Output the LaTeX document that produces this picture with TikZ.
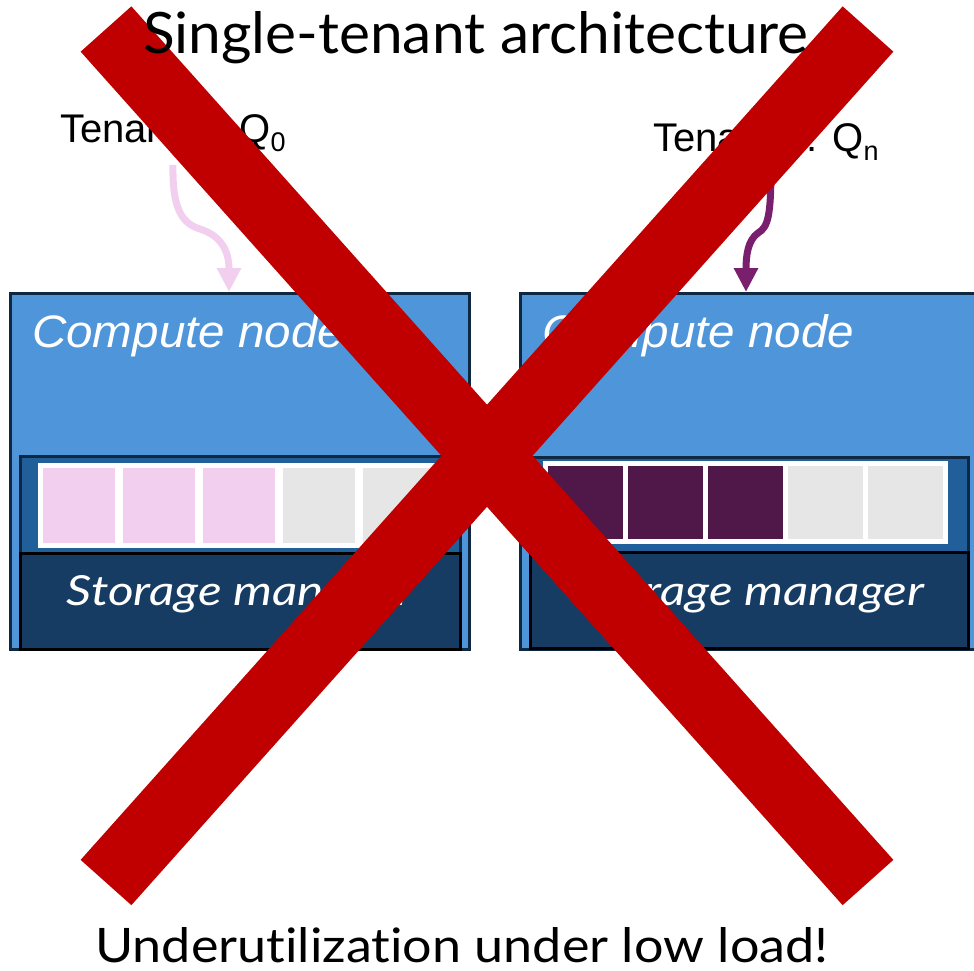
\documentclass[tikz,border=0pt]{standalone}
\usepackage{fontspec}
\setmainfont{Liberation Sans}
\newfontfamily\headfont[Ligatures=NoCommon]{Lato}
\usetikzlibrary{arrows.meta}

\definecolor{computefill}{HTML}{4E95D9}
\definecolor{boxline}{HTML}{0E2841}
\definecolor{poolfill}{HTML}{215F9A}
\definecolor{storefill}{HTML}{173C63}
\definecolor{pinkq}{HTML}{F2CFEE}
\definecolor{plumq}{HTML}{4F1848}
\definecolor{plumarrow}{HTML}{7A1F6E}
\definecolor{freeslot}{HTML}{E6E6E6}
\definecolor{crossred}{HTML}{C00000}

\begin{document}
\begin{tikzpicture}[x=1pt,y=-1pt,
  panel/.style={anchor=north west, inner sep=0pt, outer sep=0pt, line width=3pt},
  computebox/.style={panel, draw=boxline, fill=computefill},
  poolbox/.style={panel, draw=boxline, fill=poolfill},
  storebox/.style={panel, draw=black, fill=storefill},
  stripbox/.style={panel, fill=white, line width=0pt},
  slot/.style={anchor=north west, inner sep=0pt, outer sep=0pt},
  boxtext/.style={text=white, inner sep=0pt},
  plain/.style={text=black, inner sep=0pt},
  query/.style={line width=7pt, -{Triangle[width=23pt,length=24pt]}},
  strike/.style={crossred, line width=68pt}
]
\useasboundingbox (0,0) rectangle (974,970);

% ---- left compute node ----
\node[computebox, minimum width=459pt, minimum height=356pt] (cnA) at (10,293) {};
\node[poolbox, minimum width=440pt, minimum height=193pt] (poolA) at (20,456) {};
\node[stripbox, minimum width=402pt, minimum height=85pt] (stripA) at (38,463) {};
\foreach \i/\c in {0/pinkq,1/pinkq,2/pinkq,3/freeslot,4/freeslot}
  \node[slot, fill=\c, minimum width=72pt, minimum height=75pt] (slotA\i) at (43+80*\i,468) {};
\node[storebox, minimum width=440pt, minimum height=96pt] (smA) at (20,553) {};

% ---- right compute node ----
\node[computebox, minimum width=470pt, minimum height=356pt] (cnB) at (520,293) {};
\node[poolbox, minimum width=438pt, minimum height=192pt] (poolB) at (530,457) {};
\node[stripbox, minimum width=405pt, minimum height=83pt] (stripB) at (543,461) {};
\foreach \i/\c in {0/plumq,1/plumq,2/plumq,3/freeslot,4/freeslot}
  \node[slot, fill=\c, minimum width=75pt, minimum height=73pt] (slotB\i) at (548+80*\i,466) {};
\node[storebox, minimum width=438pt, minimum height=96pt] (smB) at (530,552) {};

% ---- labels inside the nodes ----
\node[boxtext, anchor=base west] (cnAtxt) at (32,347) {\resizebox{312pt}{33pt}{\itshape Compute node}};
\node[boxtext, anchor=base west] (cnBtxt) at (542,347) {\resizebox{312pt}{33pt}{\itshape Compute node}};
\node[boxtext, anchor=base] (smAtxt) at (240,605) {\resizebox{346pt}{30pt}{\headfont\itshape Storage manager}};
\node[boxtext, anchor=base] (smBtxt) at (751,605) {\resizebox{346pt}{30pt}{\headfont\itshape Storage manager}};

% ---- tenants and their queries ----
\node[plain, anchor=base west] (tenA) at (60,142)
  {\fontsize{40}{48}\selectfont Tenant 0: Q\raisebox{-9pt}{\fontsize{27}{30}\selectfont 0}};
\node[plain, anchor=base west] (tenB) at (653,151)
  {\fontsize{40}{48}\selectfont Tenant n: Q\raisebox{-9pt}{\fontsize{27}{30}\selectfont n}};

\coordinate (qA) at (173,165);
\coordinate (inA) at (229,292);
\coordinate (qB) at (771,165);
\coordinate (inB) at (746,292);
\draw[query, pinkq] (qA) .. controls (172,212) and (184,224) .. (200,229)
  .. controls (222,236) and (229,252) .. (inA);
\draw[query, plumarrow] (qB) .. controls (771,217) and (768,227) .. (758,233)
  .. controls (748,240) and (746,255) .. (inB);

% ---- the big cross ----
\coordinate (xTL) at (106,29);
\coordinate (xBR) at (868,882.5);
\coordinate (xTR) at (868,29);
\coordinate (xBL) at (106,882.5);
\draw[strike] (xTL) -- (xBR);
\draw[strike] (xTR) -- (xBL);

% ---- headline and verdict ----
\node[plain, anchor=base west] (title) at (143,53)
  {\resizebox{665pt}{42pt}{\headfont Single-tenant architecture}};
\node[plain, anchor=base west] (verdict) at (95,962)
  {\resizebox{733pt}{35pt}{\headfont Underutilization under low load!}};
\end{tikzpicture}
\end{document}
